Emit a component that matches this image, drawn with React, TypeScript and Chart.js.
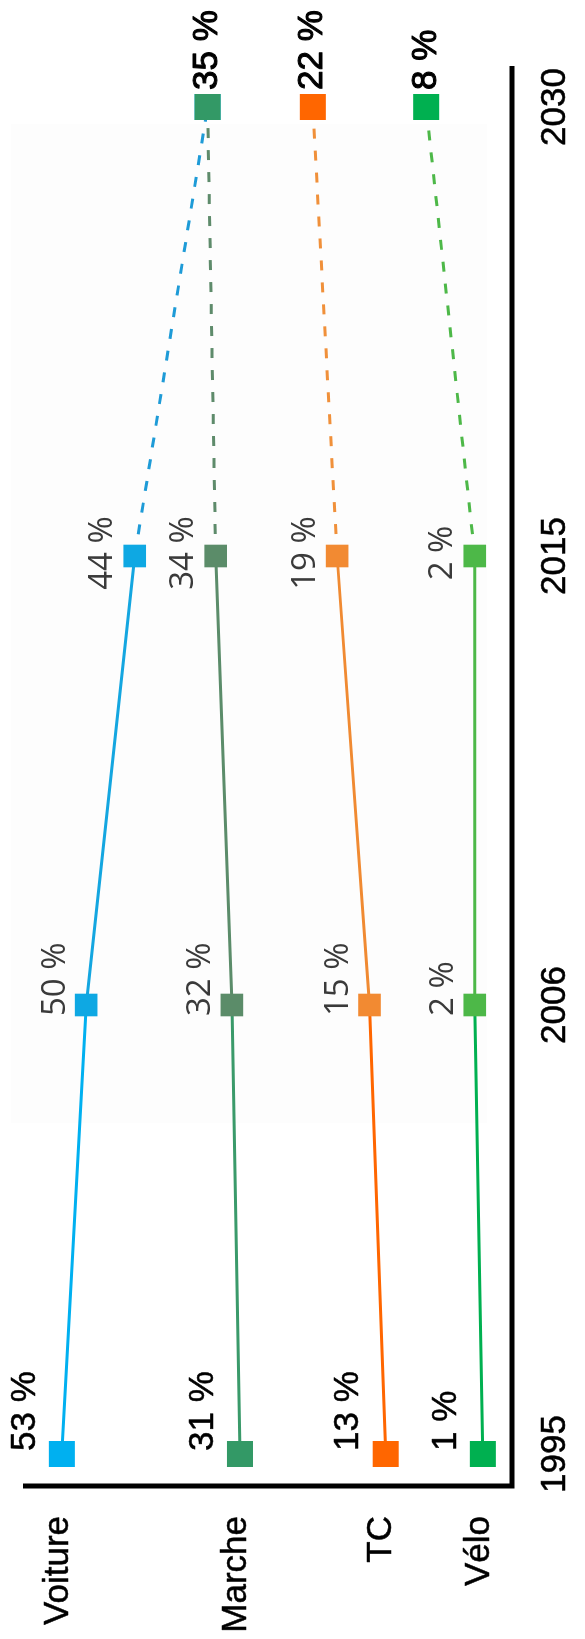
import React, { useEffect, useRef } from "react";
import { Chart, registerables } from "chart.js";

Chart.register(...registerables);

// ---- data ----
const years = ["1995", "2006", "2015", "2030"];
const modeNames = ["Voiture", "Marche", "TC", "Vélo"];
const voiture = [53, 50, 44, 35];
const marche = [31, 32, 34, 35];
const tc = [13, 15, 19, 22];
const velo = [1, 2, 2, 8];
// Voiture's 2030 label is hidden under the Marche one in the source
const voitureLabelShown = [true, true, true, false];

// ---- styles ----
const W = 1639;
const H = 585;
const SANS = '"Liberation Sans", Arial, sans-serif';
const SOFT = '"Open Sans", "Noto Sans", sans-serif';

const seriesStyle = [
  { point: ["#00B0F0", "#0EA8E3", "#0EA8E3", "#00B0F0"], seg: ["#00B0F0", "#14A6E0", "#1E9BD7"], order: 2 },
  { point: ["#339966", "#5B8C69", "#5B8C69", "#339966"], seg: ["#3A9A6A", "#5B8C6A", "#5E8B6B"], order: 1 },
  { point: ["#FF6600", "#F28A32", "#F28A32", "#FF6600"], seg: ["#FF6600", "#F08A32", "#F0903A"], order: 3 },
  { point: ["#00B050", "#4DB848", "#4DB848", "#00B050"], seg: ["#00B050", "#4DB848", "#4DB848"], order: 4 },
];

const seriesValues = [voiture, marche, tc, velo];

function boldText(ctx: any, txt: string, x: number, y: number, sw: number) {
  ctx.fillText(txt, x, y);
  if (sw > 0) {
    ctx.lineWidth = sw;
    ctx.strokeStyle = ctx.fillStyle;
    ctx.lineJoin = "round";
    ctx.strokeText(txt, x, y);
  }
}

const slopePlugin = {
  id: "slopeDecor",
  beforeDatasetsDraw(chart: any) {
    const ctx = chart.ctx;
    const a = chart.chartArea;
    ctx.save();
    ctx.fillStyle = "#FDFDFD";
    ctx.fillRect(a.left + 331, 11, 999, 476);
    ctx.restore();
  },
  afterDraw(chart: any) {
    const ctx = chart.ctx;
    const a = chart.chartArea;
    ctx.save();
    // axes
    ctx.strokeStyle = "#000";
    ctx.lineWidth = 5;
    ctx.lineJoin = "miter";
    ctx.beginPath();
    ctx.moveTo(a.left - 32, a.top);
    ctx.lineTo(a.left - 32, a.bottom);
    ctx.lineTo(a.right + 41, a.bottom);
    ctx.stroke();

    chart.data.datasets.forEach((ds: any, i: number) => {
      const pts = chart.getDatasetMeta(i).data;
      // mode name
      ctx.font = `35px ${SANS}`;
      ctx.fillStyle = "#000";
      ctx.textAlign = "right";
      ctx.textBaseline = "middle";
      boldText(ctx, modeNames[i], a.left - 62, pts[0].y - 4, 0.5);

      pts.forEach((p: any, j: number) => {
        if (i === 0 && !voitureLabelShown[j]) return;
        const txt = `${ds.data[j]} %`;
        ctx.textBaseline = "middle";
        if (j === 0) {
          ctx.font = `35px ${SANS}`;
          ctx.fillStyle = "#000";
          ctx.textAlign = "left";
          boldText(ctx, txt, p.x + 3, p.y - 37, 0.5);
        } else if (j === 1) {
          ctx.font = `33px ${SOFT}`;
          ctx.fillStyle = "#3A3A3A";
          ctx.textAlign = "left";
          boldText(ctx, txt, p.x - 11, p.y - 31, 0);
        } else if (j === 2) {
          ctx.font = `33px ${SOFT}`;
          ctx.fillStyle = "#3A3A3A";
          ctx.textAlign = "center";
          boldText(ctx, txt, p.x + 3, p.y - 32, 0);
        } else {
          ctx.font = `35px ${SANS}`;
          ctx.fillStyle = "#000";
          ctx.textAlign = "left";
          boldText(ctx, txt, p.x + 17, p.y, 1.1);
        }
      });
    });
    ctx.restore();
  },
};

export default function App() {
  const ref = useRef<HTMLCanvasElement>(null);

  useEffect(() => {
    document.documentElement.style.overflow = "hidden";
    const canvas = ref.current;
    if (!canvas) return;
    const chart = new Chart(canvas, {
      type: "line",
      data: {
        labels: years,
        datasets: seriesValues.map((vals, i) => ({
          label: modeNames[i],
          data: vals,
          order: seriesStyle[i].order,
          borderColor: seriesStyle[i].seg[0],
          borderWidth: 3,
          tension: 0,
          clip: false,
          pointStyle: "rect",
          pointRadius: [18.4, 16, 16, 18.4],
          pointHoverRadius: [18.4, 16, 16, 18.4],
          pointBorderWidth: 0,
          pointBackgroundColor: seriesStyle[i].point,
          pointBorderColor: seriesStyle[i].point,
          segment: {
            borderColor: (c: any) => seriesStyle[i].seg[c.p0DataIndex],
            borderDash: (c: any) => (c.p0DataIndex === 2 ? [10, 12] : undefined),
          },
        })),
      },
      options: {
        responsive: false,
        animation: false,
        events: [],
        layout: { padding: { left: 185, right: 107, top: 23, bottom: 0 } },
        plugins: { legend: { display: false }, tooltip: { enabled: false } },
        scales: {
          x: {
            type: "category",
            offset: false,
            grid: { display: false, drawTicks: false },
            border: { display: false },
            ticks: {
              font: { family: SANS, size: 35 },
              color: "#000",
              textStrokeColor: "#000",
              textStrokeWidth: 0.5,
              padding: 22,
              maxRotation: 0,
              autoSkip: false,
            },
            afterFit: (s: any) => {
              s.height = 73;
            },
          },
          y: {
            type: "linear",
            display: false,
            min: -2.6,
            max: 57.8,
          },
        },
      },
      plugins: [slopePlugin],
    });
    return () => chart.destroy();
  }, []);

  return (
    <div
      style={{
        position: "absolute",
        left: 0,
        top: 0,
        width: W,
        height: H,
        background: "#fff",
        transformOrigin: "0 0",
        transform: `rotate(-90deg) translateX(-${W}px)`,
      }}
    >
      <canvas ref={ref} width={W} height={H} style={{ display: "block", width: W, height: H }} />
    </div>
  );
}
